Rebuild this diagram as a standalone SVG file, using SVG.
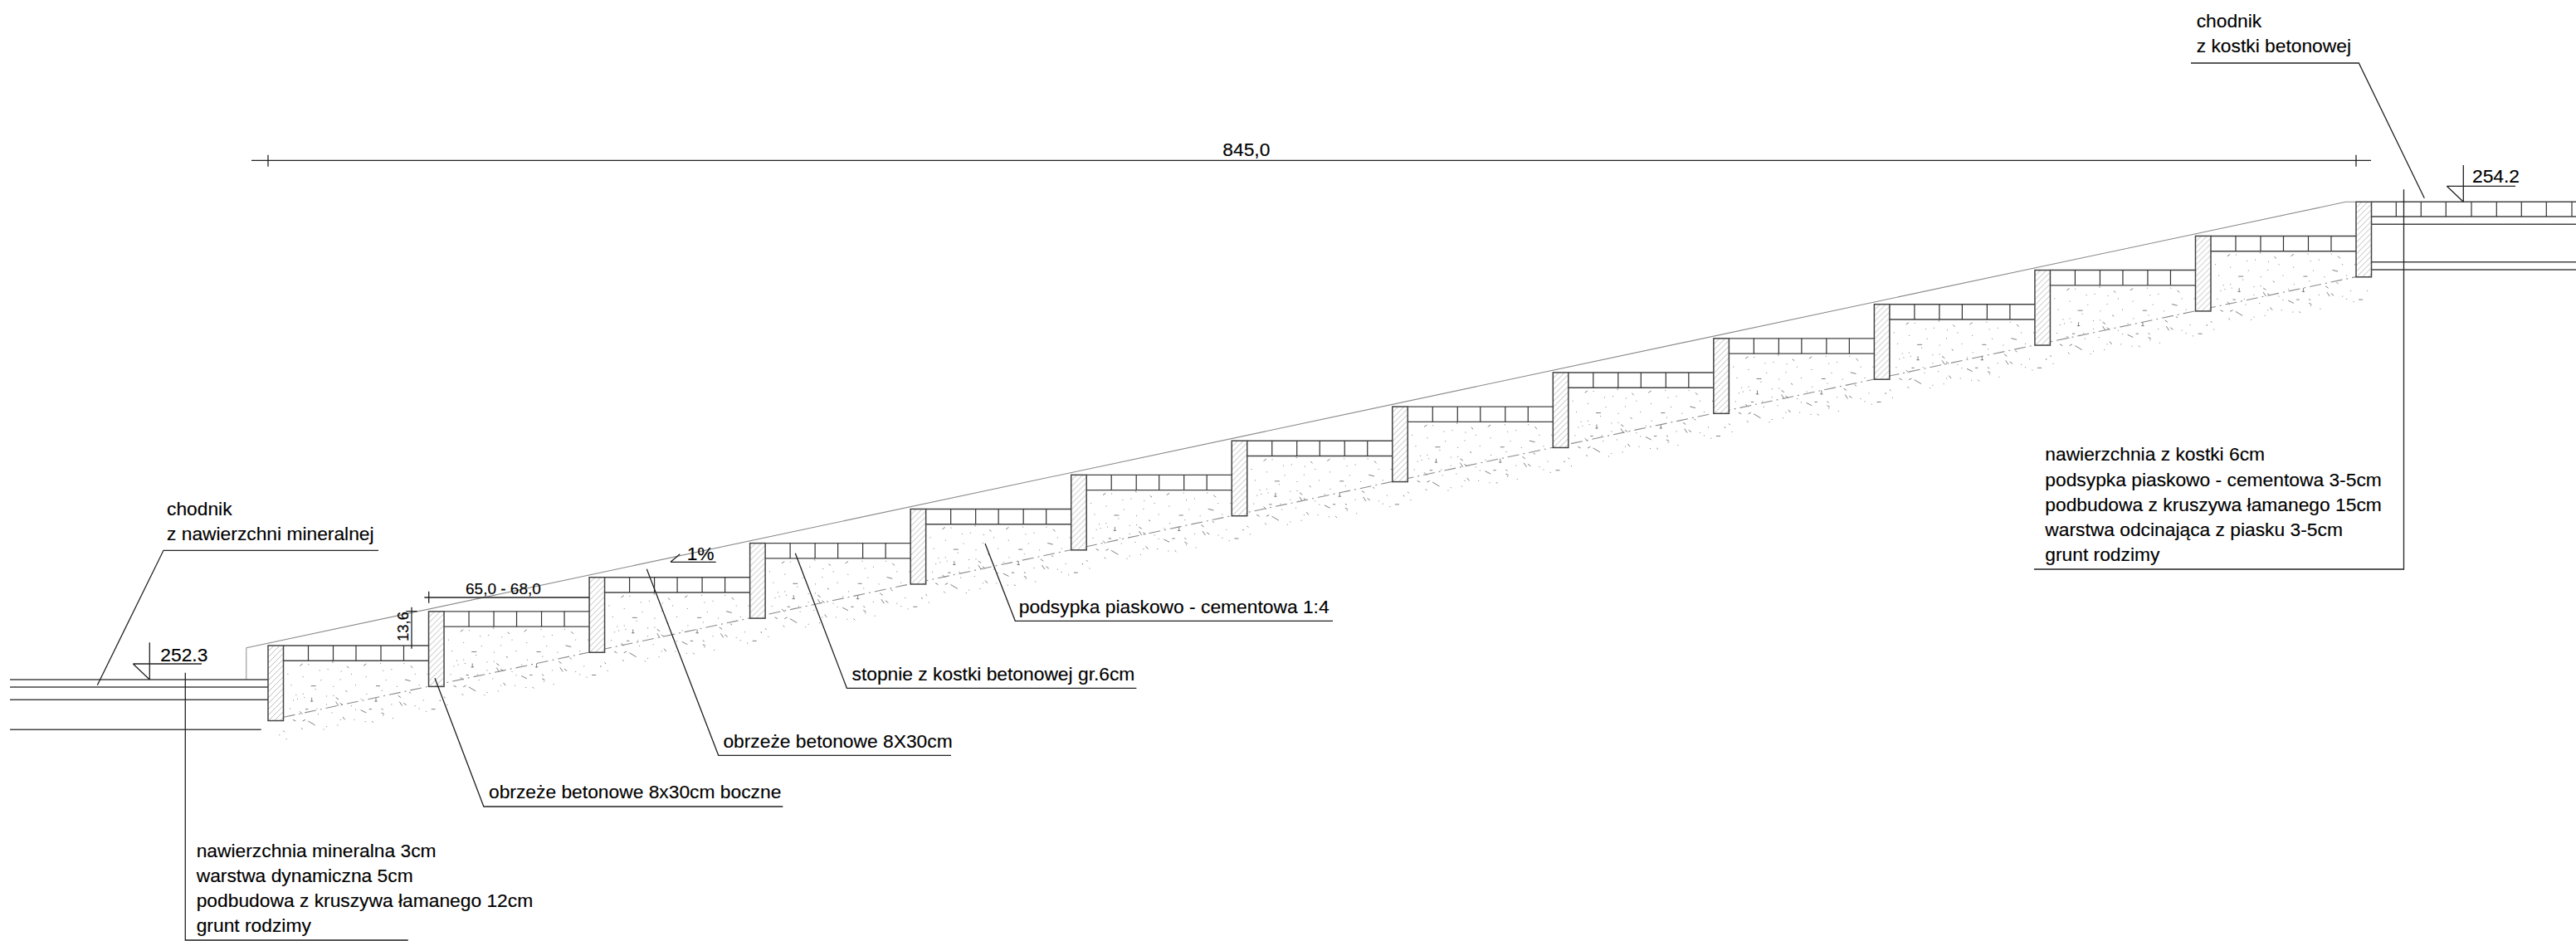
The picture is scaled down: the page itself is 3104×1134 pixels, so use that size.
<svg xmlns="http://www.w3.org/2000/svg" xmlns:xlink="http://www.w3.org/1999/xlink" width="3104" height="1134" viewBox="0 0 3104 1134">
<style>
text{font-family:"Liberation Sans",Arial,sans-serif;font-size:22.8px;fill:#000;stroke:#000;stroke-width:.15}
.l{fill:none;stroke:#222;stroke-width:1.3}
.b{fill:none;stroke:#444;stroke-width:1.4}
.v{fill:none;stroke:#333;stroke-width:1.2}
.g{fill:none;stroke:#8a8a8a;stroke-width:1.1}
.c{fill:url(#h);stroke:#444;stroke-width:1.5}
</style>
<defs>
<pattern id="h" patternUnits="userSpaceOnUse" width="7" height="7"><rect width="7" height="7" fill="#fff"/><path d="M-1 1L1-1M0 7L7 0M6 8L8 6" stroke="#bcbcbc" stroke-width="1" fill="none"/></pattern>
<g id="sand"><path transform="translate(-10,-65.7) scale(.33333)" fill="none" stroke="#808080" stroke-width="3" d="M145 270l10-7M175 265h3M262 255l4 5M315 272l7 6M375 270l10-7M435 262h3M520 262h3M545 270l8 8M215 287h3M245 283h3M293 290h3M445 288h3M475 283h3M155 310h3M220 322h3M290 320h3M383 310h3M455 322h3M525 320l20 5M605 300h3M113 340h3M265 345h3M345 340h3M495 345h3M575 340h3M185 343h18M420 343h15M130 375h3M155 372h3M385 372h3M188 385v15M183 398h10M420 385v15M415 398h10M240 380h3M265 378h3M275 385l10 7M500 378l10 7M275 400l10 15M290 405l10 7M505 400l10 15M520 405l10 7M135 390h3M160 385h3M365 390h3M240 410h3M475 410h3M590 395h3M650 395h3M165 427h10M395 427h10M620 427h15M145 435l10 10M365 430l20 10M108 425h3M600 435h3M575 425h3M345 428h3M210 445h3M445 450h3M480 460h3M155 470l10-5M175 470l25 15M120 465l10 5M405 470l5 5M380 472h3M150 495l5 5M240 490h3M280 485h3M340 465h3M85 505l5 5M70 520h3M95 535h3M230 500h3M300 455l8 10M440 440l10 5M100 300h3M330 300h3M560 300h3M200 355h3M310 360l6 4M440 360h3M540 365l6 4M120 395h3M330 415h3M560 415h3M205 425h3M440 425l6 4M260 440h3M290 465h3"/></g>
<g id="tread">
<path class="b" d="M18.5 0H193.5M18.5 18.3H193.5"/>
<path class="v" d="M48.5 0v18.3M78.5 0v18.3M106 0v18.3M136 0v18.3M163.5 0v18.3"/>
</g>
<rect id="curb" class="c" width="18.5" height="90.5"/>
</defs>
<g id="sand-fill">
<use href="#sand" x="323" y="778"/><use href="#sand" x="516.54" y="736.87"/><use href="#sand" x="710.08" y="695.74"/><use href="#sand" x="903.62" y="654.61"/><use href="#sand" x="1097.16" y="613.48"/><use href="#sand" x="1290.7" y="572.35"/><use href="#sand" x="1484.24" y="531.22"/><use href="#sand" x="1677.78" y="490.09"/><use href="#sand" x="1871.32" y="448.96"/><use href="#sand" x="2064.86" y="407.83"/><use href="#sand" x="2258.4" y="366.7"/><use href="#sand" x="2451.94" y="325.57"/><use href="#sand" x="2645.48" y="284.44"/>
</g>
<g id="slope-lines">
<path class="g" d="M296.7 780.7L2826.7 243.3H2839"/>
<path d="M296.7 819V780.7" fill="none" stroke="#b5b5b5" stroke-width="1.6"/>
<path class="g" stroke-dasharray="14 5 2 5" d="M341.7 864.3L2839 333.6"/>
</g>
<g id="left-pavement">
<path class="b" d="M12 819H323M12 828H323M12 843.3H323M12 879.3H314.7"/>
</g>
<g id="right-pavement">
<path class="b" d="M2857.5 243.3H3104M2857.5 261H3104M2857.5 270.3H3104M2857.5 315.7H3104M2857.5 325H3104"/>
<path class="v" d="M2887.3 243.3v17.7M2917.3 243.3v17.7M2947.3 243.3v17.7M2978 243.3v17.7M3008.3 243.3v17.7M3038.3 243.3v17.7M3068.3 243.3v17.7M3099 243.3v17.7"/>
</g>
<g id="treads">
<use href="#tread" x="323" y="778"/><use href="#tread" x="516.54" y="736.87"/><use href="#tread" x="710.08" y="695.74"/><use href="#tread" x="903.62" y="654.61"/><use href="#tread" x="1097.16" y="613.48"/><use href="#tread" x="1290.7" y="572.35"/><use href="#tread" x="1484.24" y="531.22"/><use href="#tread" x="1677.78" y="490.09"/><use href="#tread" x="1871.32" y="448.96"/><use href="#tread" x="2064.86" y="407.83"/><use href="#tread" x="2258.4" y="366.7"/><use href="#tread" x="2451.94" y="325.57"/><use href="#tread" x="2645.48" y="284.44"/>
</g>
<g id="curbs">
<use href="#curb" x="323" y="778"/><use href="#curb" x="516.54" y="736.87"/><use href="#curb" x="710.08" y="695.74"/><use href="#curb" x="903.62" y="654.61"/><use href="#curb" x="1097.16" y="613.48"/><use href="#curb" x="1290.7" y="572.35"/><use href="#curb" x="1484.24" y="531.22"/><use href="#curb" x="1677.78" y="490.09"/><use href="#curb" x="1871.32" y="448.96"/><use href="#curb" x="2064.86" y="407.83"/><use href="#curb" x="2258.4" y="366.7"/><use href="#curb" x="2451.94" y="325.57"/><use href="#curb" x="2645.48" y="284.44"/><use href="#curb" x="2839" y="243.3"/>
</g>
<g id="connectors">
<path class="l" d="M117.3 825.7L197 663.3H456"/>
<path class="l" d="M223.3 810.7V1133H491.7"/>
<path class="l" d="M524 817.3L582.9 972H943.3"/>
<path class="l" d="M779.3 685.7L865.7 910.3H1146"/>
<path class="l" d="M958.3 666.7L1020.4 829.3H1369.4"/>
<path class="l" d="M1187 655L1223.3 748.3H1606"/>
<path class="l" d="M2640 76H2842.3L2921.3 238.7"/>
<path class="l" d="M2896.5 228.3V686H2451"/>
</g>
<g id="dimensions">
<path class="l" d="M303 193.3H2857M323 186.7V200.7M2839 186.7V200.7"/>
<path class="l" d="M511.4 720H710M516.7 712.7V726.7"/>
<path class="l" d="M496 731.7V781.7M489.3 736.7H502.7"/>
<path class="l" d="M808 677.3H862.7M808 677.3L819.3 667.7"/>
<path class="l" d="M180.3 774.3V819M160.3 800H243M160.3 800L180.3 819"/>
<path class="l" d="M2968.3 199V243.3M2948.3 224.3H3031M2948.3 224.3L2968.3 243.3"/>
<text x="1473.3" y="187.7">845,0</text>
<text x="561" y="716" style="font-size:19px">65,0 - 68,0</text>
<text transform="translate(491.7,773) rotate(-90)" style="font-size:18.5px">13,6</text>
<text x="827.7" y="675">1%</text>
<text x="193.3" y="797">252.3</text>
<text x="2979" y="220">254.2</text>
</g>
<g id="labels">
<text x="201" y="620.7">chodnik</text>
<text x="201" y="650.7">z nawierzchni mineralnej</text>
<text x="2646.7" y="33.3">chodnik</text>
<text x="2646.7" y="63.3">z kostki betonowej</text>
<text x="236.7" y="1033">nawierzchnia mineralna 3cm</text>
<text x="236.7" y="1063">warstwa dynamiczna 5cm</text>
<text x="236.7" y="1093">podbudowa z kruszywa łamanego 12cm</text>
<text x="236.7" y="1123">grunt rodzimy</text>
<text x="589" y="962.3">obrzeże betonowe 8x30cm boczne</text>
<text x="871.4" y="900.7">obrzeże betonowe 8X30cm</text>
<text x="1026.5" y="820">stopnie z kostki betonowej gr.6cm</text>
<text x="1227.8" y="739.3">podsypka piaskowo - cementowa 1:4</text>
<text x="2464.3" y="555">nawierzchnia z kostki 6cm</text>
<text x="2464.3" y="586">podsypka piaskowo - cementowa 3-5cm</text>
<text x="2464.3" y="616">podbudowa z kruszywa łamanego 15cm</text>
<text x="2464.3" y="646">warstwa odcinająca z piasku 3-5cm</text>
<text x="2464.3" y="676">grunt rodzimy</text>
</g>
</svg>
